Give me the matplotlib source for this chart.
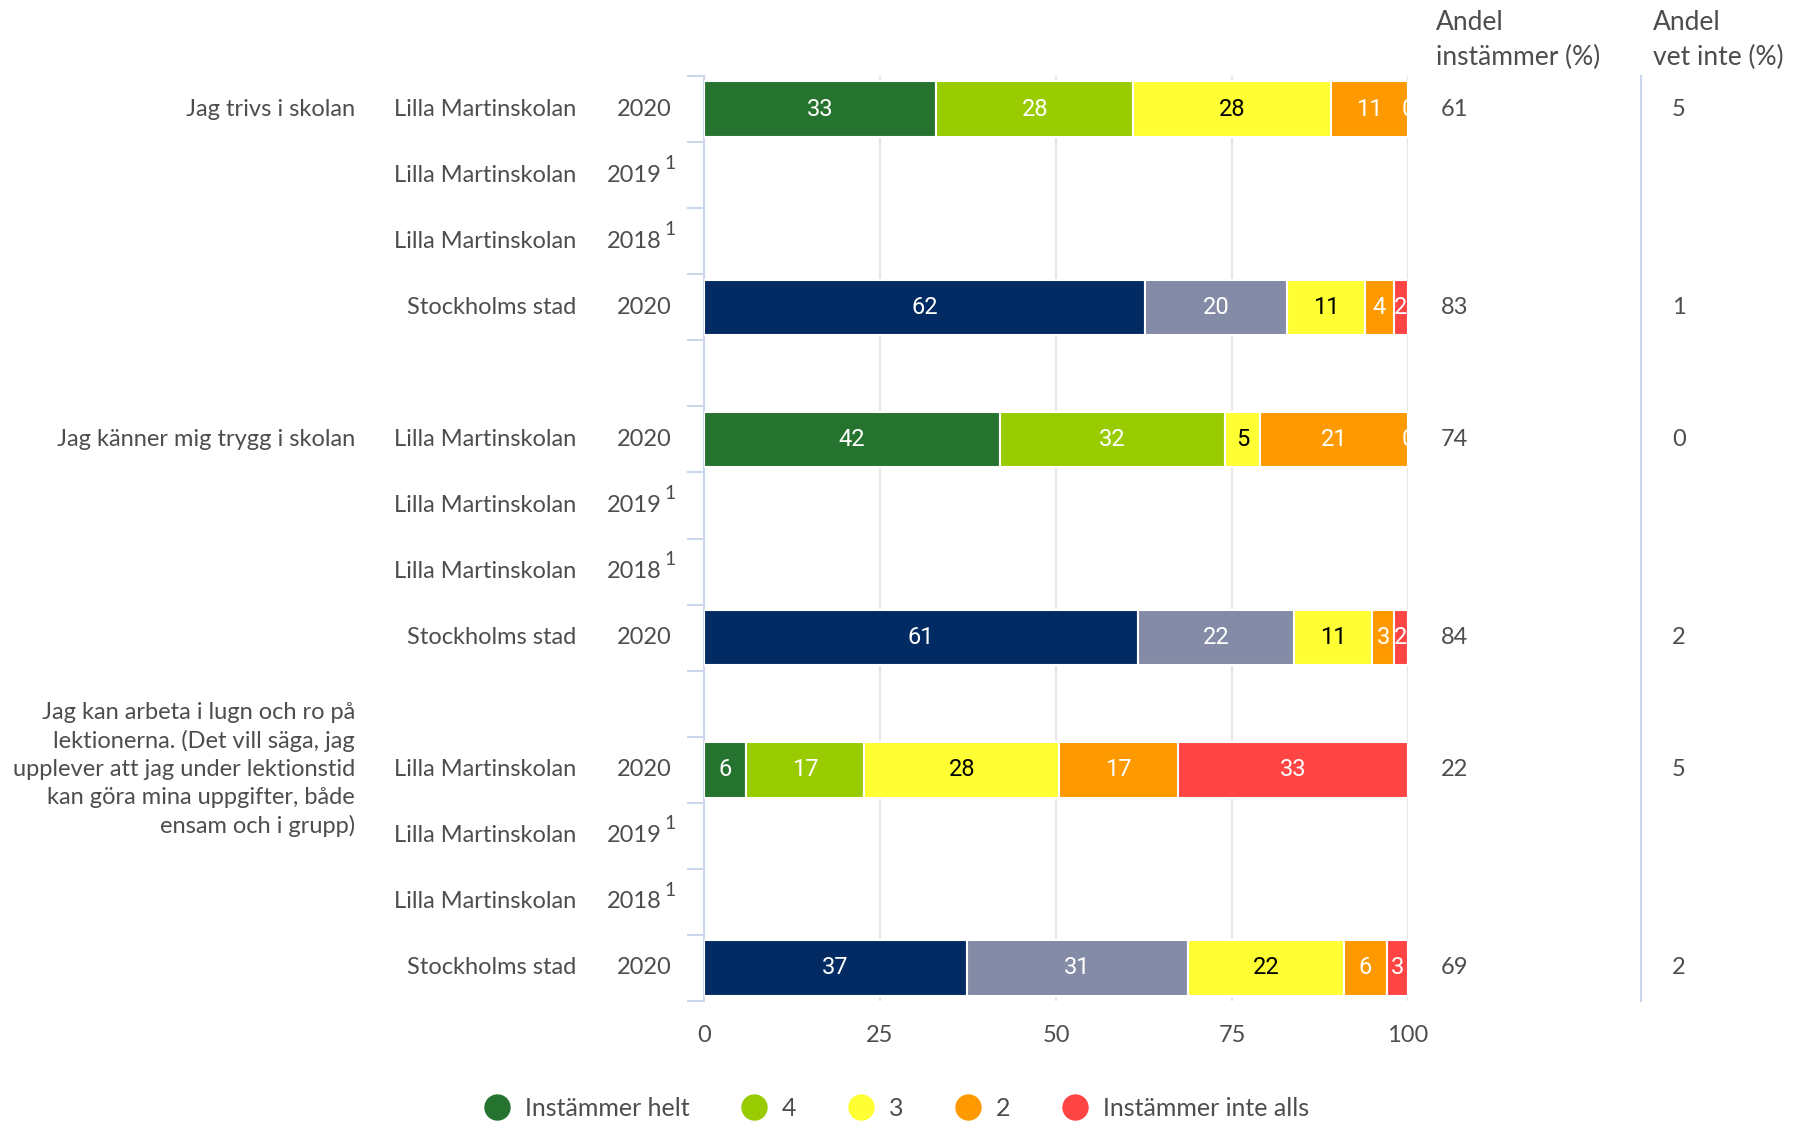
import matplotlib
matplotlib.use('Agg')
import matplotlib.pyplot as plt
from matplotlib.lines import Line2D
from matplotlib.transforms import blended_transform_factory

plt.rcParams['font.family'] = ['Lato', 'DejaVu Sans']

# Påståenden och rader
questions = ['Jag trivs i skolan',
             'Jag känner mig trygg i skolan',
             'Jag kan arbeta i lugn och ro på\nlektionerna. (Det vill säga, jag\n'
             'upplever att jag under lektionstid\nkan göra mina uppgifter, både\nensam och i grupp)']
units = ['Lilla Martinskolan', 'Lilla Martinskolan', 'Lilla Martinskolan', 'Stockholms stad']
years = ['2020', '2019', '2018', '2020']
footnotes = ['', '1', '1', '']

categories = ['Instämmer helt', '4', '3', '2', 'Instämmer inte alls']
school_colors = ['#267330', '#99cc00', '#ffff33', '#ff9900', '#ff4444']
city_colors = ['#022b63', '#838ba6', '#ffff33', '#ff9900', '#ff4444']
label_colors = ['white', 'white', 'black', 'white', 'white']

# Svarsfördelning (%) - skolan 2020 och Stockholms stad 2020
school_2020 = [[33, 28, 28, 11, 0], [42, 32, 5, 21, 0], [6, 17, 28, 17, 33]]
city_2020 = [[62, 20, 11, 4, 2], [61, 22, 11, 3, 2], [37, 31, 22, 6, 3]]
school_agree = [61, 74, 22]
school_dontknow = [5, 0, 5]
city_agree = [83, 84, 69]
city_dontknow = [1, 2, 2]

TXT = '#4d4d4d'
FS = 17
W, H = 1798, 1122

fig = plt.figure(figsize=(W / 100, H / 100), dpi=100)
ax = fig.add_axes([704 / W, 1 - 1001 / H, 704 / W, 925 / H])
ax.set_xlim(0, 100)
ax.set_ylim(13.5, -0.5)

def draw_bar(y, values, colors):
    tot = sum(values)
    left = 0
    for i, v in enumerate(values):
        w = v / tot * 100
        ax.barh(y, w, left=left, height=0.84, color=colors[i],
                edgecolor='white', linewidth=1.5, zorder=3)
        ax.text(left + w / 2, y, str(v), ha='center', va='center',
                color=label_colors[i], fontsize=FS, zorder=4, clip_on=True,
                family=['Roboto', 'DejaVu Sans'])
        left += w

tr_left = blended_transform_factory(fig.transFigure, ax.transData)

for q in range(3):
    base = q * 5
    draw_bar(base, school_2020[q], school_colors)
    draw_bar(base + 3, city_2020[q], city_colors)

    ax.text(355 / W, base, questions[q], transform=tr_left, ha='right', va='center',
            fontsize=FS, color=TXT, linespacing=1.4)
    for r in range(4):
        y = base + r
        ax.text(576 / W, y, units[r], transform=tr_left, ha='right', va='center',
                fontsize=FS, color=TXT)
        if footnotes[r]:
            ax.text(662 / W, y, years[r], transform=tr_left, ha='right', va='center',
                    fontsize=FS, color=TXT)
            ax.text(664 / W, y - 0.18, footnotes[r], transform=tr_left, ha='left',
                    va='center', fontsize=14, color=TXT)
        else:
            ax.text(672 / W, y, years[r], transform=tr_left, ha='right', va='center',
                    fontsize=FS, color=TXT)

    # högra kolumner
    ax.text(1441 / W, base, str(school_agree[q]), transform=tr_left, ha='left',
            va='center', fontsize=FS, color=TXT)
    ax.text(1441 / W, base + 3, str(city_agree[q]), transform=tr_left, ha='left',
            va='center', fontsize=FS, color=TXT)
    ax.text(1679 / W, base, str(school_dontknow[q]), transform=tr_left, ha='center',
            va='center', fontsize=FS, color=TXT)
    ax.text(1679 / W, base + 3, str(city_dontknow[q]), transform=tr_left, ha='center',
            va='center', fontsize=FS, color=TXT)

fig.text(1436 / W, 1 - 10 / H, 'Andel\ninstämmer (%)', ha='left', va='top',
         fontsize=19, color=TXT, linespacing=1.5)
fig.text(1653 / W, 1 - 10 / H, 'Andel\nvet inte (%)', ha='left', va='top',
         fontsize=19, color=TXT, linespacing=1.5)

# separator
tr_sep = blended_transform_factory(fig.transFigure, ax.transAxes)
ax.plot([1641 / W, 1641 / W], [0, 1], transform=tr_sep, color='#ccd6eb',
        lw=1.5, clip_on=False)

# axlar
for s in ['top', 'right', 'bottom']:
    ax.spines[s].set_visible(False)
ax.spines['left'].set_color('#ccd6eb')
ax.spines['left'].set_linewidth(1.5)
ax.set_yticks([i - 0.5 for i in range(15)])
ax.set_yticklabels([])
ax.tick_params(axis='y', length=12, width=1.5, color='#ccd6eb')
ax.set_xticks([0, 25, 50, 75, 100])
ax.tick_params(axis='x', length=0, pad=17, labelsize=FS, labelcolor=TXT)
ax.grid(axis='x', color='#e6e6e6', lw=1.5, zorder=0)
ax.set_axisbelow(True)

handles = [Line2D([], [], marker='o', ls='', markersize=18, color=c) for c in school_colors]
fig.legend(handles, categories, loc='center', bbox_to_anchor=(0.498, 1 - 1108 / H),
           ncol=5, frameon=False, fontsize=FS + 1, labelcolor=TXT, handlelength=1.2,
           handletextpad=0.5, columnspacing=2.0)

fig.savefig('out.png', dpi=100)
